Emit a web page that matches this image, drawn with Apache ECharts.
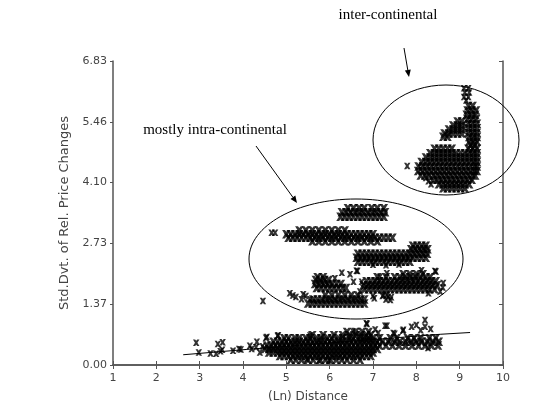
<!DOCTYPE html>
<html><head><meta charset="utf-8">
<script src="https://cdn.jsdelivr.net/npm/echarts@6/dist/echarts.min.js"></script>
<style>html,body{margin:0;padding:0;background:#fff}#c{width:547px;height:411px}</style>
</head><body><div id="c"></div>
<script>
// ---- tick labels ----
const xTicks = [1,2,3,4,5,6,7,8,9,10];
const yTickLabels = ['0.00','1.37','2.73','4.10','5.46','6.83'];

// ---- data (rows are [y, x1, x2, ...]; pairs are [x, y]) ----
const lowSparse = [[2.92,0.50],[2.98,0.28],[3.25,0.26],[3.38,0.25],[3.42,0.47],[3.53,0.51],[3.48,0.31],[3.52,0.34],[3.77,0.32],[3.91,0.36],[3.95,0.35],[4.16,0.43],[4.32,0.52],[4.53,0.61],[4.55,0.63],[4.80,0.65],[4.81,0.67],[4.39,0.28],[4.2,0.36],[4.3,0.4],[4.45,0.42],[5.55,0.66],[6.54,0.75],[5.47,0.13],[5.75,0.10],[5.98,0.10],[6.86,0.92],[7.32,0.88],[7.12,0.72],[7.5,0.70],[7.69,0.77],[8.0,0.90],[8.2,1.01],[6.85,0.94],[7.28,0.88],[7.47,0.72],[7.7,0.79],[7.89,0.86],[8.2,0.86],[8.33,0.81],[8.27,0.38],[8.1,0.78],[7.05,0.8]];
const lowRows = [
 [0.12,5.1,5.22,5.35,5.5,5.62,5.78,5.9,6.02,6.15,6.28,6.4,6.55,6.7],
 [0.2,4.85,4.95,5.05,5.15,5.25,5.35,5.45,5.55,5.65,5.75,5.85,5.95,6.05,6.15,6.25,6.35,6.45,6.55,6.65,6.75,6.85,6.95],
 [0.28,4.6,4.7,4.8,4.9,5.0,5.1,5.2,5.3,5.4,5.5,5.6,5.7,5.8,5.9,6.0,6.1,6.2,6.3,6.4,6.5,6.6,6.7,6.8,6.9,7.0],
 [0.36,4.5,4.6,4.7,4.8,4.9,5.0,5.1,5.2,5.3,5.4,5.5,5.6,5.7,5.8,5.9,6.0,6.1,6.2,6.3,6.4,6.5,6.6,6.7,6.8,6.9,7.0,7.1],
 [0.44,4.55,4.65,4.75,4.85,4.95,5.05,5.15,5.25,5.35,5.45,5.55,5.65,5.75,5.85,5.95,6.05,6.15,6.25,6.35,6.45,6.55,6.65,6.75,6.85,6.95,7.05,7.15,7.3,7.45,7.6,7.75,7.9,8.05,8.2,8.35,8.5],
 [0.52,4.7,4.8,4.9,5.0,5.1,5.2,5.3,5.4,5.5,5.6,5.7,5.8,5.9,6.0,6.1,6.2,6.3,6.4,6.5,6.6,6.7,6.8,6.9,7.0,7.1,7.22,7.35,7.5,7.62,7.75,7.88,8.0,8.12,8.25,8.38,8.52],
 [0.6,4.95,5.05,5.2,5.3,5.45,5.55,5.7,5.8,5.95,6.05,6.2,6.3,6.45,6.55,6.7,6.8,6.9,7.0,7.15,7.4,7.55,7.8,7.95,8.1,8.3,8.45],
 [0.67,5.6,5.85,6.1,6.3,6.45,6.6,6.72,6.85,6.95],
 [0.74,6.4,6.6,6.75,6.9]
];
const intraRows = [
 [3.33,6.25,6.35,6.45,6.55,6.65,6.75,6.85,6.95,7.05,7.15,7.25],
 [3.43,6.28,6.38,6.48,6.58,6.68,6.78,6.88,6.98,7.08,7.18,7.28],
 [3.52,6.42,6.55,6.68,6.8,6.97,7.1,7.25],
 [3.02,5.3,5.45,5.6,5.75,5.9,6.05,6.2,6.35],
 [2.94,5.0,5.1,5.2,5.3,5.4,5.5,5.6,5.7,5.8,5.9,6.0,6.1,6.2,6.3,6.4,6.5,6.6,6.7,6.8,6.9,7.0],
 [2.86,5.05,5.15,5.25,5.35,5.45,5.55,5.65,5.75,5.85,5.95,6.05,6.15,6.25,6.35,6.45,6.55,6.65,6.75,6.85,6.95,7.05,7.15,7.25,7.35,7.45],
 [2.78,5.6,5.75,5.9,6.05,6.2,6.35,6.5,6.65,6.8,6.95,7.1],
 [2.32,6.65,6.75,6.85,6.95,7.05,7.15,7.25,7.35,7.45,7.55,7.65,7.75,7.85],
 [2.41,6.62,6.72,6.82,6.92,7.02,7.12,7.22,7.32,7.42,7.52,7.62,7.72,7.82,7.92,8.02,8.12,8.22],
 [2.5,6.65,6.75,6.85,6.95,7.05,7.15,7.25,7.35,7.45,7.55,7.65,7.75,7.85,7.95,8.05,8.15,8.25],
 [2.6,7.88,7.98,8.08,8.18,8.26],
 [2.68,7.92,8.02,8.12,8.22],
 [1.73,5.7,5.8,5.9,6.0,6.1,6.2,6.3,6.38],
 [1.82,5.66,5.76,5.86,5.96,6.06,6.16,6.26],
 [1.91,5.68,5.78,5.88,5.98],
 [1.97,5.72,5.85],
 [1.7,6.8,6.9,7.0,7.1,7.2,7.3,7.4,7.5,7.6,7.7,7.8,7.9,8.0,8.1,8.2,8.3,8.42],
 [1.79,6.78,6.88,6.98,7.08,7.18,7.28,7.38,7.48,7.58,7.68,7.78,7.88,7.98,8.08,8.18,8.28,8.38,8.48],
 [1.88,6.85,6.95,7.05,7.15,7.25,7.35,7.45,7.55,7.65,7.75,7.85,7.95,8.05,8.15,8.25,8.35,8.45],
 [1.97,7.1,7.3,7.5,7.62,7.74,7.86,7.98,8.1,8.22,8.32],
 [2.04,7.7,7.85,8.0,8.15],
 [1.38,5.5,5.6,5.7,5.8,5.9,6.0,6.1,6.2,6.3,6.4,6.5,6.6,6.7,6.8],
 [1.47,5.62,5.72,5.82,5.92,6.02,6.12,6.22,6.32,6.42,6.52,6.62,6.72,6.8],
 [1.56,5.9,6.05,6.2,6.35,6.5,6.65]
];
const intraSparse = [[4.66,2.97],[4.74,2.97],[7.0,2.25],[7.3,2.24],[7.6,2.26],[6.28,2.07],[6.47,2.04],[6.64,2.11],[6.55,1.87],[6.74,1.87],[6.12,1.95],[6.62,2.12],[8.45,2.1],[8.62,1.84],[8.12,2.13],[7.32,2.06],[7.16,1.98],[8.28,1.61],[7.03,1.5],[6.70,1.65],[8.43,2.11],[8.61,1.74],[8.55,1.65],[5.08,1.61],[5.22,1.53],[5.35,1.48],[5.39,1.59],[5.55,1.48],[4.46,1.44],[5.15,1.56],[5.45,1.55],[7.22,1.55],[7.32,1.58],[7.42,1.52],[7.3,1.47],[7.4,1.46],[7.0,1.55],[7.24,1.57],[7.35,1.53]];
const interRows = [
 [5.82,9.2,9.3],
 [5.72,9.18,9.28,9.38],
 [5.62,9.16,9.26,9.36],
 [5.52,9.18,9.28,9.38],
 [5.42,9.2,9.3,9.4],
 [5.32,9.2,9.3,9.4],
 [5.22,9.2,9.3,9.4],
 [5.12,9.22,9.32,9.4],
 [5.02,9.22,9.32,9.4],
 [4.94,9.25,9.35],
 [5.47,8.95,9.05],
 [5.38,8.85,8.95,9.05],
 [5.29,8.75,8.85,8.95,9.05],
 [5.2,8.65,8.75,8.85,8.95,9.05],
 [5.13,8.62,8.72],
 [4.86,8.42,8.52,8.62,8.72,8.82,9.2,9.3,9.4],
 [4.76,8.32,8.42,8.52,8.62,8.72,8.82,8.92,9.02,9.12,9.22,9.32,9.4],
 [4.66,8.22,8.32,8.42,8.52,8.62,8.72,8.82,8.92,9.02,9.12,9.22,9.32,9.4],
 [4.56,8.12,8.22,8.32,8.42,8.52,8.62,8.72,8.82,8.92,9.02,9.12,9.22,9.32,9.4],
 [4.46,8.05,8.15,8.25,8.35,8.45,8.55,8.65,8.75,8.85,8.95,9.05,9.15,9.25,9.35,9.4],
 [4.36,8.04,8.14,8.24,8.34,8.44,8.54,8.64,8.74,8.84,8.94,9.04,9.14,9.24,9.34,9.4],
 [4.26,8.1,8.2,8.3,8.4,8.5,8.6,8.7,8.8,8.9,9.0,9.1,9.2,9.3,9.36],
 [4.16,8.38,8.48,8.58,8.68,8.78,8.88,8.98,9.08,9.18,9.28],
 [4.06,8.52,8.62,8.72,8.82,8.92,9.02,9.12,9.22],
 [3.97,8.62,8.72,8.82,8.92,9.02,9.12]
];
const interSparse = [[9.1,6.22],[9.2,6.22],[9.12,6.12],[9.22,6.12],[9.1,6.02],[9.2,6.02],[9.15,5.94],[7.79,4.47],[8.34,4.06],[8.22,4.2],[8.28,4.13]];
const fitLine = [[2.62,0.23],[4.09,0.35],[8.55,0.69],[9.24,0.73]];

function fromRows(rows){const out=[];rows.forEach(r=>{for(let i=1;i<r.length;i++)out.push([r[i],r[0]]);});return out;}
const denseData = fromRows(lowRows).concat(fromRows(intraRows), fromRows(interRows));
const sparseData = lowSparse.concat(intraSparse, interSparse);

const X_SYM = 'path://M0,0L3.4,0L5,2.1L6.6,0L10,0L6.9,5L10,10L6.6,10L5,7.9L3.4,10L0,10L3.1,5Z';
const axisCol = '#555';
const labelFont = {color:'#444', fontFamily:'DejaVu Sans', fontSize:11};

function scatter(data,size){return {type:'scatter',data:data,symbol:X_SYM,symbolSize:size,itemStyle:{color:'#000'},silent:true,z:3};}

function arrow(x1,y1,x2,y2){
  const a=Math.atan2(y2-y1,x2-x1), L=7, W=3;
  const bx=x2-L*Math.cos(a), by=y2-L*Math.sin(a);
  const px=-Math.sin(a)*W, py=Math.cos(a)*W;
  return [
    {type:'line',shape:{x1:x1,y1:y1,x2:bx,y2:by},style:{stroke:'#000',lineWidth:1}},
    {type:'polygon',shape:{points:[[x2,y2],[bx+px,by+py],[bx-px,by-py]]},style:{fill:'#000'}}
  ];
}

const chart = echarts.init(document.getElementById('c'));
chart.setOption({
  animation:false,
  backgroundColor:'#fff',
  grid:{left:113,right:44,top:61,bottom:46},
  xAxis:[
    {type:'value',min:1,max:10,interval:1,position:'bottom',
     name:'(Ln) Distance',nameLocation:'middle',nameGap:26,
     nameTextStyle:{color:'#444',fontFamily:'DejaVu Sans',fontSize:12},
     axisLine:{show:true,lineStyle:{color:axisCol,width:1.5}},
     axisTick:{show:true,inside:true,length:4,lineStyle:{color:axisCol}},
     axisLabel:Object.assign({margin:8,formatter:v=>String(xTicks[xTicks.indexOf(v)])},labelFont),
     splitLine:{show:false}},
    {type:'value',min:1,max:10,interval:1,position:'top',
     axisLine:{show:true,lineStyle:{color:axisCol,width:1.5}},
     axisTick:{show:true,inside:true,length:4,lineStyle:{color:axisCol}},
     axisLabel:{show:false},splitLine:{show:false}}
  ],
  yAxis:[
    {type:'value',min:0,max:6.83,interval:6.83/5,position:'left',
     name:'Std.Dvt. of Rel. Price Changes',nameLocation:'middle',nameGap:40,
     nameTextStyle:{color:'#444',fontFamily:'DejaVu Sans',fontSize:13},
     axisLine:{show:true,lineStyle:{color:axisCol,width:1.5}},
     axisTick:{show:true,inside:false,length:3,lineStyle:{color:axisCol}},
     axisLabel:Object.assign({margin:6,formatter:(v,i)=>yTickLabels[i]},labelFont),
     splitLine:{show:false}},
    {type:'value',min:0,max:6.83,interval:6.83/5,position:'right',
     axisLine:{show:true,lineStyle:{color:axisCol,width:1.5}},
     axisTick:{show:true,inside:true,length:4,lineStyle:{color:axisCol}},
     axisLabel:{show:false},splitLine:{show:false}}
  ],
  series:[
    scatter(denseData,8.5), scatter(sparseData,6.5),
    {type:'line',data:fitLine,showSymbol:false,symbol:'none',lineStyle:{color:'#000',width:1},z:2,silent:true}
  ],
  graphic:[
    {type:'ellipse',shape:{cx:356,cy:259,rx:107,ry:60},style:{fill:'none',stroke:'#000',lineWidth:1},z:10},
    {type:'ellipse',shape:{cx:446,cy:140,rx:73,ry:55},style:{fill:'none',stroke:'#000',lineWidth:1},z:10},
    {type:'text',style:{text:'inter-continental',x:388,y:15,textAlign:'center',textVerticalAlign:'middle',font:'15px "Liberation Serif"',fill:'#000'},z:10},
    {type:'text',style:{text:'mostly intra-continental',x:215,y:130,textAlign:'center',textVerticalAlign:'middle',font:'15px "Liberation Serif"',fill:'#000'},z:10}
  ].concat(arrow(404,48,409,77)).concat(arrow(256,146,297,203))
});
</script></body></html>
